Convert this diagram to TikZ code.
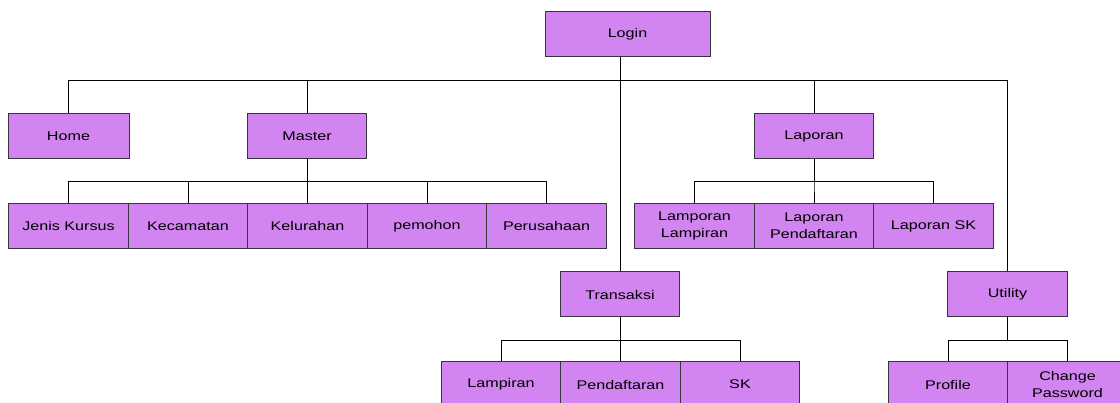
\documentclass[tikz,border=0pt]{standalone}
\usepackage{fontspec}
\setmainfont{Liberation Sans}[FakeStretch=1.28]
\usetikzlibrary{positioning}
\definecolor{menufill}{RGB}{210,132,240}
\definecolor{menuline}{RGB}{55,50,60}
\tikzset{x=1pt, y=-1pt, node distance=119.5pt,
  menu/.style={draw=menuline, line width=1pt, fill=menufill, minimum width=119.5pt,
    minimum height=45pt, inner sep=0pt, align=center,
    font=\fontsize{12.6}{17}\selectfont},
  link/.style={draw=black, line width=0.9pt}}
\begin{document}
\begin{tikzpicture}

           \clip (0,0) rectangle (1120,403);
           \fill[white] (0,0) rectangle (1120,403);
           \coordinate (bus) at (0,80);

           \node[menu, minimum width=165pt] (login) at (627.5,34.5) {Login};
           \node[menu, minimum width=121pt] (home) at (68.5,136) {Home};
           \node[menu] (master) at (307,136) {Master};
           \node[menu] (laporan) at (814,136) {Laporan};
           \node[menu] (transaksi) at (620,294.5) {Transaksi};
           \node[menu] (utility) at (1007.5,294.5) {Utility};

           \node[menu, minimum width=121pt] (jenis) at (68.5,226) {Jenis Kursus};
           \node[menu] (kecamatan) [right of=jenis] {Kecamatan};
           \node[menu] (kelurahan) [right of=kecamatan] {Kelurahan};
           \node[menu] (pemohon) [right of=kelurahan] {pemohon};
           \node[menu] (perusahaan) [right of=pemohon] {Perusahaan};

           \node[menu] (lapLampiran) at (694.5,226) {Lamporan\\Lampiran};
           \node[menu] (lapDaftar) [right of=lapLampiran] {Laporan\\Pendaftaran};
           \node[menu] (lapSK) [right of=lapDaftar] {Laporan SK};

           \node[menu] (lampiran) at (501,384.5) {Lampiran};
           \node[menu] (pendaftaran) [right of=lampiran] {Pendaftaran};
           \node[menu] (sk) [right of=pendaftaran] {SK};

           \node[menu] (profile) at (948,384.5) {Profile};
           \node[menu] (chgpass) [right of=profile] {Change\\Password};

           \draw[link] (login.south -| transaksi) -- (transaksi.north);
           \draw[link] (home.north) |- (bus -| utility) -- (utility.north);
           \draw[link] (master.north) -- (master.north |- bus);
           \draw[link] (laporan.north) -- (laporan.north |- bus);

           \foreach \c in {jenis,kecamatan,kelurahan,pemohon,perusahaan}
             \draw[link] (master.south) -- ++(0,22.5) -| (\c.north);
           \foreach \c in {lapLampiran,lapDaftar,lapSK}
             \draw[link] (laporan.south) -- ++(0,22.5) -| (\c.north);
           \foreach \c in {lampiran,pendaftaran,sk}
             \draw[link] (transaksi.south) -- ++(0,22.5) -| (\c.north);
           \foreach \c in {profile,chgpass}
             \draw[link] (utility.south) -- ++(0,22.5) -| (\c.north);

\end{tikzpicture}
\end{document}
